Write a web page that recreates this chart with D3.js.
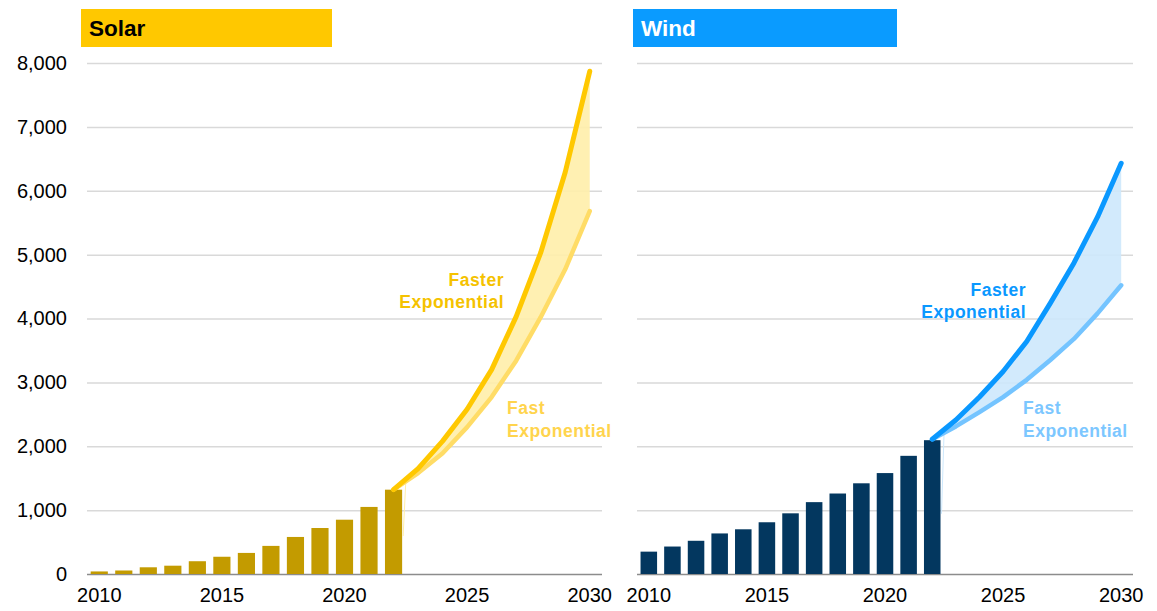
<!DOCTYPE html>
<html><head><meta charset="utf-8">
<script src="https://cdn.jsdelivr.net/npm/d3@7"></script>
<style>body{margin:0;background:#fff}svg{display:block;font-family:"Liberation Sans",Arial,sans-serif}</style>
</head><body><svg id="c" width="1157" height="611"></svg>
<script>
const years = d3.range(2010, 2031);
const histYears = d3.range(2010, 2023);
const projYears = d3.range(2022, 2031);
const yTicks = [0,1000,2000,3000,4000,5000,6000,7000,8000];
const xTickLabels = [2010,2015,2020,2025,2030];

const solarHist = [40,55,105,130,200,270,330,440,580,720,850,1050,1320];
const solarFaster = [1320,1650,2080,2580,3200,4030,5030,6290,7870];
const solarFast = [1320,1580,1890,2300,2770,3340,4020,4770,5680];

const windHist = [350,430,520,635,700,810,950,1125,1260,1420,1580,1850,2095];
const windFaster = [2110,2410,2770,3170,3640,4240,4870,5590,6430];
const windFast = [2110,2310,2535,2770,3040,3350,3680,4080,4520];

const svg = d3.select("#c");
const y = d3.scaleLinear().domain([0,8000]).range([574,63]);

const panels = [
  {title:"Solar", x0:87, x1:602, box:[81,332], boxFill:"#FFC800", titleFill:"#000",
   hist:solarHist, faster:solarFaster, fast:solarFast, bar:"#C39B00",
   fasterCol:"#FFC800", fastCol:"#FFDC66", band:"#FFEEAA", yLabels:true,
   fasterLbl:{x:504, y:286, col:"#F5C200"}, fastLbl:{x:507, y:414, col:"#FFD44D"}},
  {title:"Wind", x0:637, x1:1133, box:[633,897], boxFill:"#0A9BFF", titleFill:"#fff",
   hist:windHist, faster:windFaster, fast:windFast, bar:"#03375F",
   fasterCol:"#0A98FF", fastCol:"#74C4FF", band:"#CDE8FC", yLabels:false,
   fasterLbl:{x:1026, y:296, col:"#0A98FF"}, fastLbl:{x:1023, y:414, col:"#7CC7FF"}}
];

panels.forEach(p => {
  const g = svg.append("g");
  const x = d3.scaleBand().domain(years).range([p.x0, p.x1]).paddingInner(0.3).paddingOuter(0.15);
  const xc = d => x(d) + x.bandwidth()/2;

  // title box
  g.append("rect").attr("x", p.box[0]).attr("y", 9).attr("width", p.box[1]-p.box[0]).attr("height", 38).attr("fill", p.boxFill);
  g.append("text").attr("x", p.box[0]+8).attr("y", 36).attr("font-size", 22.5).attr("font-weight", "bold")
    .attr("fill", p.titleFill).text(p.title);

  // gridlines
  const ga = g.append("g").attr("transform", `translate(${p.x0},0)`)
    .call(d3.axisLeft(y).tickValues(yTicks).tickSize(-(p.x1-p.x0)).tickFormat(d3.format(",")));
  ga.select(".domain").remove();
  ga.selectAll(".tick line").attr("stroke", d => d===0 ? "#8c8c8c" : "#d9d9d9").attr("stroke-width", 1.5);
  ga.selectAll(".tick text").attr("font-size", 20).attr("fill", "#000").attr("x", -20)
    .style("display", p.yLabels ? null : "none");

  // x axis labels
  const xa = g.append("g").attr("transform", "translate(0,574)")
    .call(d3.axisBottom(x).tickValues(xTickLabels).tickSize(0).tickPadding(14));
  xa.select(".domain").remove();
  xa.selectAll(".tick text").attr("font-size", 20).attr("fill", "#000");

  // bars
  g.selectAll("rect.bar").data(histYears.map((yr,i)=>({yr, v:p.hist[i]}))).join("rect")
    .attr("class","bar").attr("x", d=>x(d.yr)).attr("width", x.bandwidth())
    .attr("y", d=>y(d.v)).attr("height", d=>y(0)-y(d.v)).attr("fill", p.bar);

  // band
  const proj = projYears.map((yr,i)=>({yr, lo:p.fast[i], hi:p.faster[i]}));
  g.append("path").datum(proj).attr("fill", p.band).attr("opacity", 0.9)
    .attr("d", d3.area().x(d=>xc(d.yr)).y0(d=>y(d.lo)).y1(d=>y(d.hi)));
  // faint edge line
  g.append("line").attr("x1", x(2022)+x.bandwidth()+1).attr("y1", y(p.hist[12]*0.45))
    .attr("x2", (xc(2022)+xc(2023))/2).attr("y2", y((p.fast[0]+p.fast[1])/2))
    .attr("stroke", p.band).attr("stroke-width", 1);

  g.append("path").datum(proj).attr("fill","none").attr("stroke", p.fastCol).attr("stroke-width", 4.5)
    .attr("stroke-linecap","round").attr("stroke-linejoin","round")
    .attr("d", d3.line().x(d=>xc(d.yr)).y(d=>y(d.lo)));
  g.append("path").datum(proj).attr("fill","none").attr("stroke", p.fasterCol).attr("stroke-width", 5)
    .attr("stroke-linecap","round").attr("stroke-linejoin","round")
    .attr("d", d3.line().x(d=>xc(d.yr)).y(d=>y(d.hi)));

  // labels
  const t1 = g.append("text").attr("x", p.fasterLbl.x).attr("y", p.fasterLbl.y).attr("text-anchor","end")
    .attr("font-size", 17.5).attr("font-weight","bold").attr("fill", p.fasterLbl.col).attr("letter-spacing", 0.5);
  t1.append("tspan").attr("x", p.fasterLbl.x).text("Faster");
  t1.append("tspan").attr("x", p.fasterLbl.x).attr("dy", 22).text("Exponential");
  const t2 = g.append("text").attr("x", p.fastLbl.x).attr("y", p.fastLbl.y).attr("text-anchor","start")
    .attr("font-size", 17.5).attr("font-weight","bold").attr("fill", p.fastLbl.col).attr("letter-spacing", 0.5);
  t2.append("tspan").attr("x", p.fastLbl.x).text("Fast");
  t2.append("tspan").attr("x", p.fastLbl.x).attr("dy", 23).text("Exponential");
});
</script></body></html>
